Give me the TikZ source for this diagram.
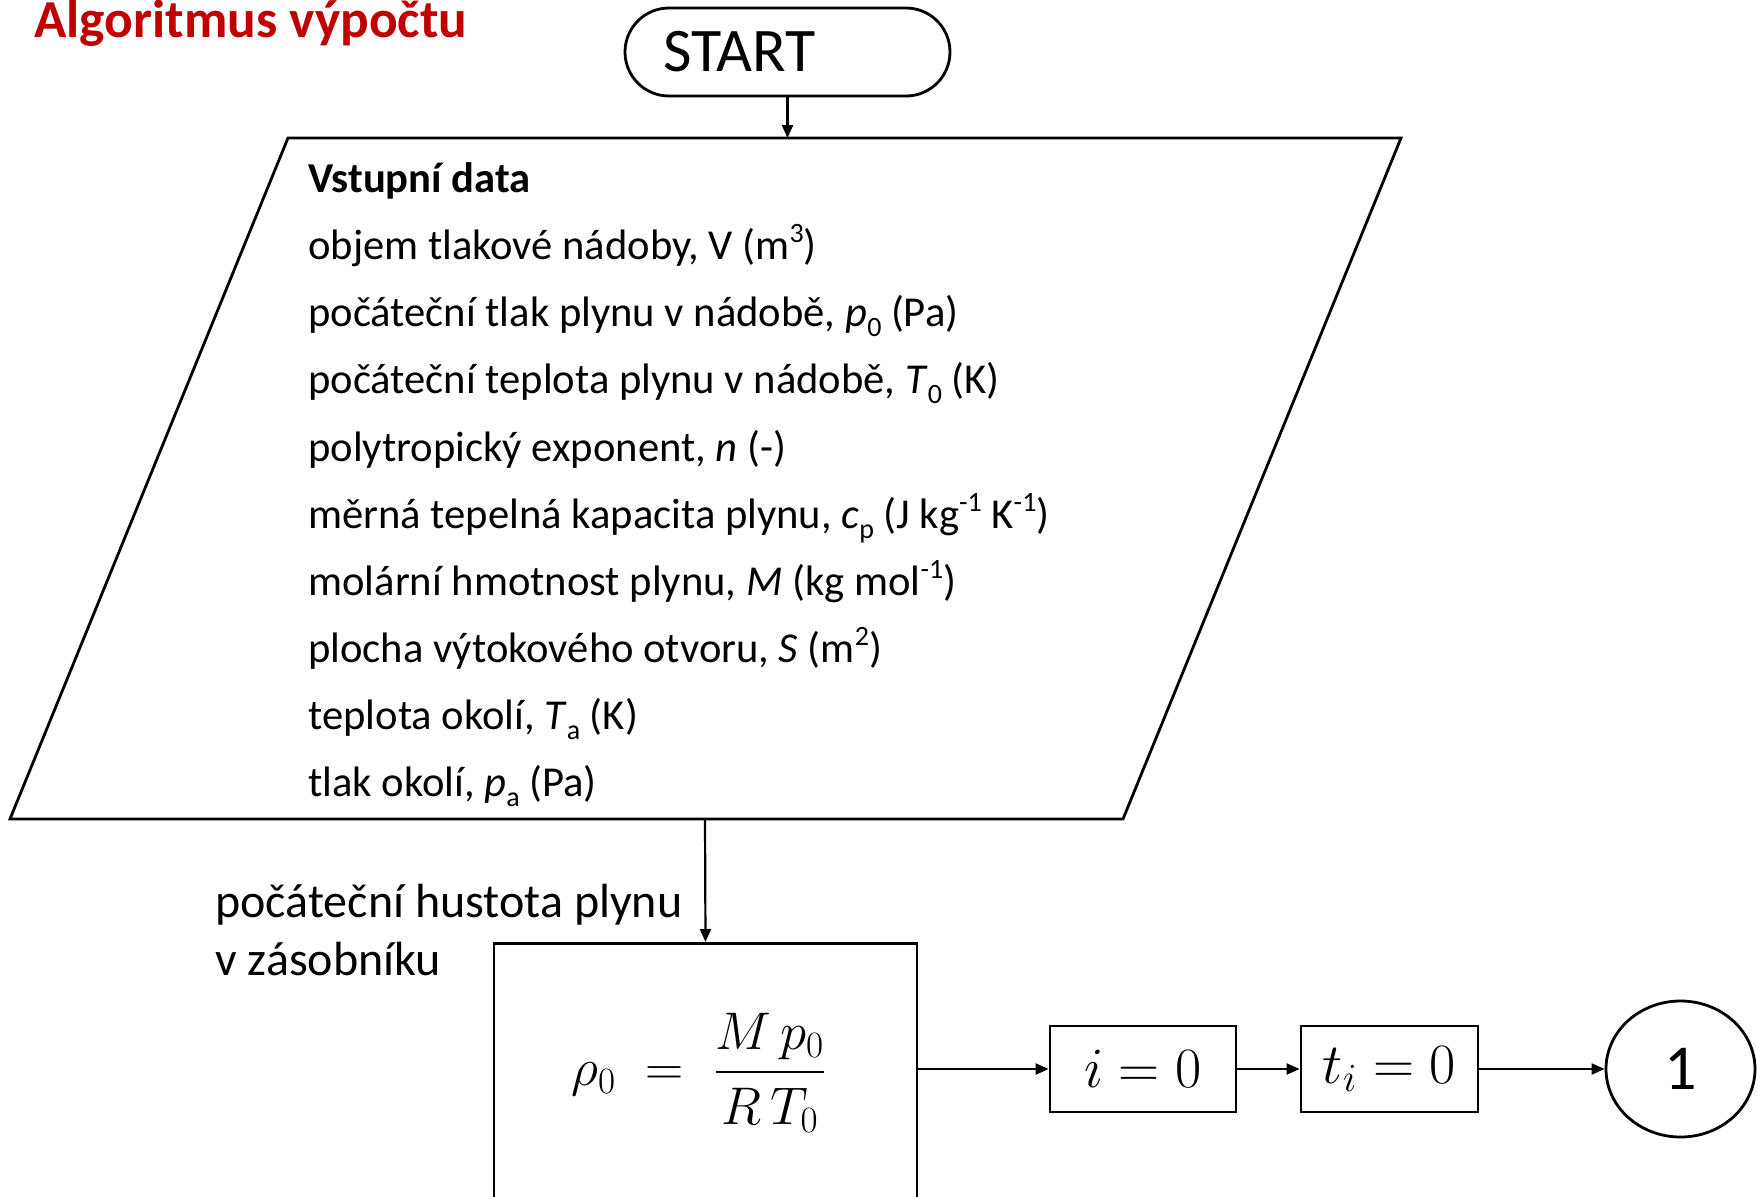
\RequirePackage{fix-cm}
\documentclass[tikz,border=0pt]{standalone}
\usepackage{fontspec}
\usepackage{amsmath}
\setmainfont{Carlito}
\usetikzlibrary{arrows.meta,shapes.geometric}
\definecolor{titlered}{RGB}{192,0,0}
% small raised / lowered indices for the list text
\newcommand\upidx[1]{\raisebox{0.38em}{\fontsize{14}{14}\selectfont #1}}
\newcommand\lowidx[1]{\raisebox{-0.25em}{\fontsize{14}{14}\selectfont #1}}
\tikzset{
  shapeline/.style={draw=black, line width=1.4pt},
  arr/.style={draw=black, line width=1.1pt, -{Triangle[length=6.5pt,width=5.5pt]}},
  listline/.style={anchor=base west, inner sep=0pt, font=\fontsize{21.3}{25}\selectfont},
  mathbox/.style={shapeline, rectangle, minimum height=43pt, inner sep=0pt,
                  font=\fontsize{28.5}{32}\selectfont},
}
\begin{document}
\begin{tikzpicture}[x=0.5pt, y=-0.5pt]
\useasboundingbox (0,0) rectangle (1757,1196);

% heading
\node[anchor=base west, inner sep=0pt, text=titlered,
      font=\fontsize{26.7}{30}\selectfont\bfseries] (title) at (34,37) {Algoritmus výpočtu};

% terminal
\node[shapeline, rounded corners=22pt, minimum height=44pt, inner ysep=0pt,
      inner xsep=19pt, text width=124.5pt, align=left,
      font=\fontsize{31}{34}\selectfont] (start) at (787.5,52) {START};

% input parallelogram
\coordinate (ptl) at (288,138);
\coordinate (ptr) at (1401,138);
\coordinate (pbr) at (1123,819);
\coordinate (pbl) at (10,819);
\draw[shapeline, line join=miter] (ptl) -- (ptr) -- (pbr) -- (pbl) -- cycle;
\coordinate (pin) at (789,138);
\coordinate (pout) at (705,819);

\node[listline] (l0) at (308,192) {\textbf{Vstupní data}};
\node[listline] (l1) at (308,259) {objem tlakové nádoby, V (m\upidx{3})};
\node[listline] (l2) at (308,326) {počáteční tlak plynu v nádobě, \textit{p}\lowidx{0} (Pa)};
\node[listline] (l3) at (308,393) {počáteční teplota plynu v nádobě, \textit{T}\lowidx{0} (K)};
\node[listline] (l4) at (308,461) {polytropický exponent, \textit{n} (-)};
\node[listline] (l5) at (308,528) {měrná tepelná kapacita plynu, \textit{c}\lowidx{p} (J kg\upidx{-1} K\upidx{-1})};
\node[listline] (l6) at (308,595) {molární hmotnost plynu, \textit{M} (kg mol\upidx{-1})};
\node[listline] (l7) at (308,662) {plocha výtokového otvoru, \textit{S} (m\upidx{2})};
\node[listline] (l8) at (308,729) {teplota okolí, \textit{T}\lowidx{a} (K)};
\node[listline] (l9) at (308,796) {tlak okolí, \textit{p}\lowidx{a} (Pa)};

% initial density block (runs past the lower edge)
\begin{scope}
\clip (0,0) rectangle (1757,1196);
\node[shapeline, rectangle, anchor=north, minimum width=211.5pt,
      minimum height=150pt] (densbox) at (705.5,942) {};
\end{scope}
\node[inner sep=0pt, font=\fontsize{26.5}{30}\selectfont] (rhoeq) at (699,1073)
  {$\displaystyle \rho_0 \;=\; \frac{M\,p_0\rule[-0.15em]{0pt}{0pt}}{\rule{0pt}{0.85em}R\,T_0}$};

\node[anchor=base west, inner sep=0pt, align=left,
      font=\fontsize{24}{29}\selectfont] (dlabel) at (215,975)
  {počáteční hustota plynu\\v zásobníku};

% initialisation blocks
\node[mathbox, minimum width=93pt] (ibox) at (1143,1069) {$i=0$};
\node[mathbox, minimum width=88.5pt] (tbox) at (1389.5,1069) {$t_i=0$};
\node[shapeline, ellipse, minimum width=74.5pt, minimum height=68pt, inner sep=0pt,
      font=\fontsize{32}{34}\selectfont] (conn1) at (1680.5,1069) {1};

% connectors
\draw[arr] (start.south) -- (start.south |- pin);
\draw[arr] (pout) -- (densbox.north);
\draw[arr] (ibox.west -| densbox.east) -- (ibox.west);
\draw[arr] (ibox.east) -- (tbox.west);
\draw[arr] (tbox.east) -- (conn1.west);
\end{tikzpicture}
\end{document}
